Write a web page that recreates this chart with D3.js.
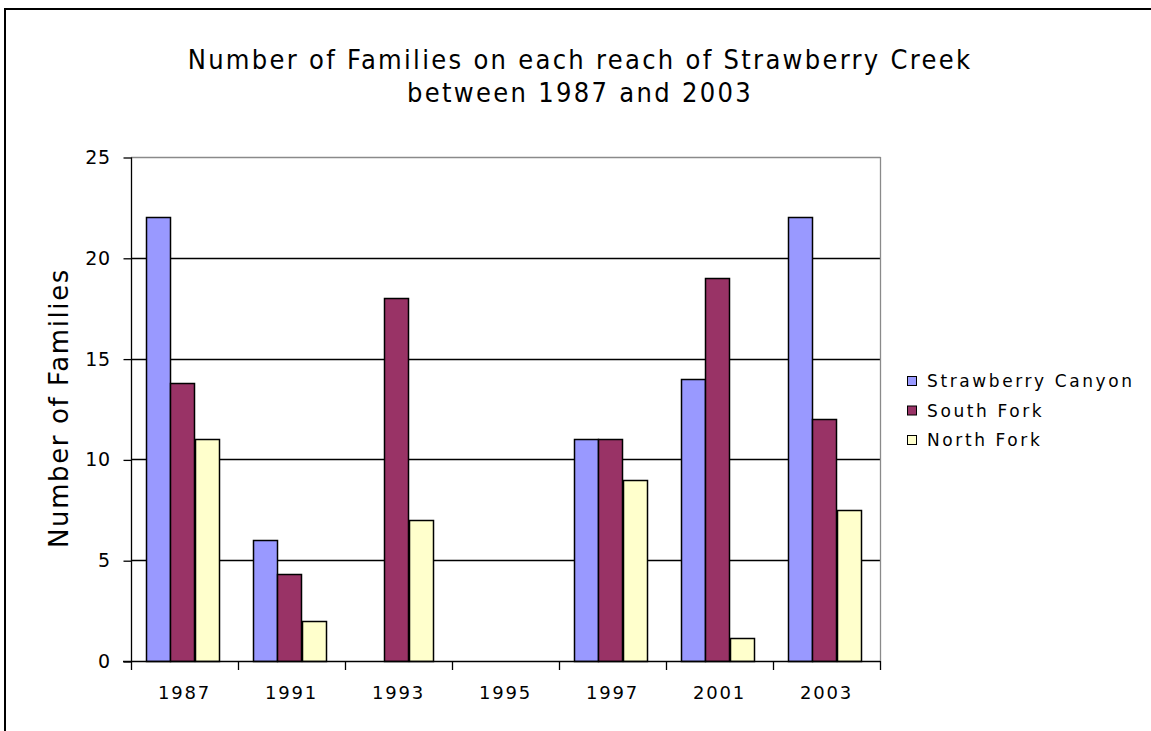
<!DOCTYPE html>
<html>
<head>
<meta charset="utf-8">
<script src="https://cdn.jsdelivr.net/npm/d3@7"></script>
<style>
  html, body { margin: 0; padding: 0; background: #fff; }
  svg { display: block; }
</style>
</head>
<body>
<svg id="chart" width="1151" height="731"></svg>
<script>
const years = ["1987", "1991", "1993", "1995", "1997", "2001", "2003"];
const seriesNames = ["Strawberry Canyon", "South Fork", "North Fork"];
const strawberryCanyon = [22, 6, 0, 0, 11, 14, 22];
const southFork = [13.8, 4.3, 18, 0, 11, 19, 12];
const northFork = [11, 2, 7, 0, 9, 1.15, 7.5];
const yTicks = [0, 5, 10, 15, 20, 25];
const colors = ["#9999FF", "#993366", "#FFFFCC"];

const series = [strawberryCanyon, southFork, northFork];
const svg = d3.select("#chart");
const font = "'DejaVu Sans', Verdana, sans-serif";

// outer frame
svg.append("line").attr("x1", 4).attr("x2", 1151).attr("y1", 9).attr("y2", 9)
  .attr("stroke", "#000").attr("stroke-width", 2);
svg.append("line").attr("x1", 5).attr("x2", 5).attr("y1", 8).attr("y2", 731)
  .attr("stroke", "#000").attr("stroke-width", 2);

const plot = { left: 131, right: 880, top: 157, bottom: 661 };

const x = d3.scaleBand().domain(years).range([plot.left, plot.right]).paddingInner(0).paddingOuter(0);
const inner = d3.scaleBand().domain(d3.range(series.length)).range([0, x.bandwidth()])
  .paddingInner(0).paddingOuter(0.72);
const y = d3.scaleLinear().domain([0, 25]).range([plot.bottom, plot.top]);

// gridlines
svg.append("g").selectAll("line").data(yTicks.filter(t => t > 0 && t < 25)).join("line")
  .attr("x1", plot.left).attr("x2", plot.right)
  .attr("y1", d => Math.round(y(d)) + 0.5).attr("y2", d => Math.round(y(d)) + 0.5)
  .attr("stroke", "#000").attr("stroke-width", 1.3);

// plot border top/right (gray)
svg.append("line").attr("x1", plot.left).attr("x2", plot.right + 0.5)
  .attr("y1", plot.top + 0.5).attr("y2", plot.top + 0.5).attr("stroke", "#8a8a8a").attr("stroke-width", 1.3);
svg.append("line").attr("x1", plot.right + 0.5).attr("x2", plot.right + 0.5)
  .attr("y1", plot.top).attr("y2", plot.bottom).attr("stroke", "#8a8a8a").attr("stroke-width", 1.3);

// bars
const groups = svg.append("g").selectAll("g").data(years).join("g")
  .attr("transform", d => `translate(${x(d)},0)`);
groups.selectAll("rect")
  .data((yr, i) => series.map((s, k) => ({ k, v: s[i] })).filter(d => d.v > 0))
  .join("rect")
  .attr("x", d => Math.round(inner(d.k)) - 1.5)
  .attr("width", Math.round(inner.bandwidth()))
  .attr("y", d => Math.round(y(d.v)) + 0.5)
  .attr("height", d => Math.round(y(0)) - Math.round(y(d.v)))
  .attr("fill", d => colors[d.k])
  .attr("stroke", "#000")
  .attr("stroke-width", 1.5);

// y axis
const yAxis = d3.axisLeft(y).tickValues(yTicks).tickSize(8).tickPadding(13);
const gy = svg.append("g").attr("transform", `translate(${plot.left + 0.5},0.5)`).call(yAxis);
gy.select(".domain").attr("stroke", "#000").attr("stroke-width", 1.3).attr("d", `M-0,${plot.top}V${plot.bottom}`);
gy.selectAll(".tick line").attr("stroke", "#000").attr("stroke-width", 1.3);
gy.selectAll(".tick text").attr("font-family", font).attr("font-size", 19)
  .attr("letter-spacing", 0.5).attr("fill", "#000");

// x axis
const xAxis = d3.axisBottom(x).tickSize(0).tickPadding(25);
const gx = svg.append("g").attr("transform", `translate(0,${plot.bottom + 0.5})`).call(xAxis);
gx.select(".domain").attr("stroke", "#000").attr("stroke-width", 1.3).attr("d", `M${plot.left - 8},0H${plot.right}`);
gx.selectAll(".tick text").attr("font-family", font).attr("font-size", 18)
  .attr("letter-spacing", 1.8).attr("fill", "#000");
// category separator ticks
svg.append("g").selectAll("line").data(years.concat(["end"])).join("line")
  .attr("x1", (d, i) => Math.round(plot.left + i * x.step()) + 0.5)
  .attr("x2", (d, i) => Math.round(plot.left + i * x.step()) + 0.5)
  .attr("y1", plot.bottom).attr("y2", plot.bottom + 9)
  .attr("stroke", "#000").attr("stroke-width", 1.3);

// title
const title = svg.append("text").attr("x", 580).attr("text-anchor", "middle")
  .attr("font-family", "'DejaVu Sans Condensed', 'DejaVu Sans', sans-serif")
  .attr("font-size", 27).attr("letter-spacing", 2.3).attr("fill", "#000");
title.append("tspan").attr("x", 580).attr("y", 69).text("Number of Families on each reach of Strawberry Creek");
title.append("tspan").attr("x", 580).attr("y", 102).text("between 1987 and 2003");

// y axis title
svg.append("text")
  .attr("transform", "translate(68,408) rotate(-90)")
  .attr("text-anchor", "middle")
  .attr("font-family", font).attr("font-size", 26).attr("letter-spacing", 1.6).attr("fill", "#000")
  .text("Number of Families");

// legend
const legend = svg.append("g").attr("transform", "translate(907,372)");
const li = legend.selectAll("g").data(seriesNames).join("g")
  .attr("transform", (d, i) => `translate(0,${i * 29.5})`);
li.append("rect").attr("x", 0.5).attr("y", 4.5).attr("width", 9).attr("height", 9)
  .attr("fill", (d, i) => colors[i]).attr("stroke", "#000");
li.append("text").attr("x", 20).attr("y", 15)
  .attr("font-family", font).attr("font-size", 17).attr("letter-spacing", 2.6).attr("fill", "#000")
  .text(d => d);
</script>
</body>
</html>
